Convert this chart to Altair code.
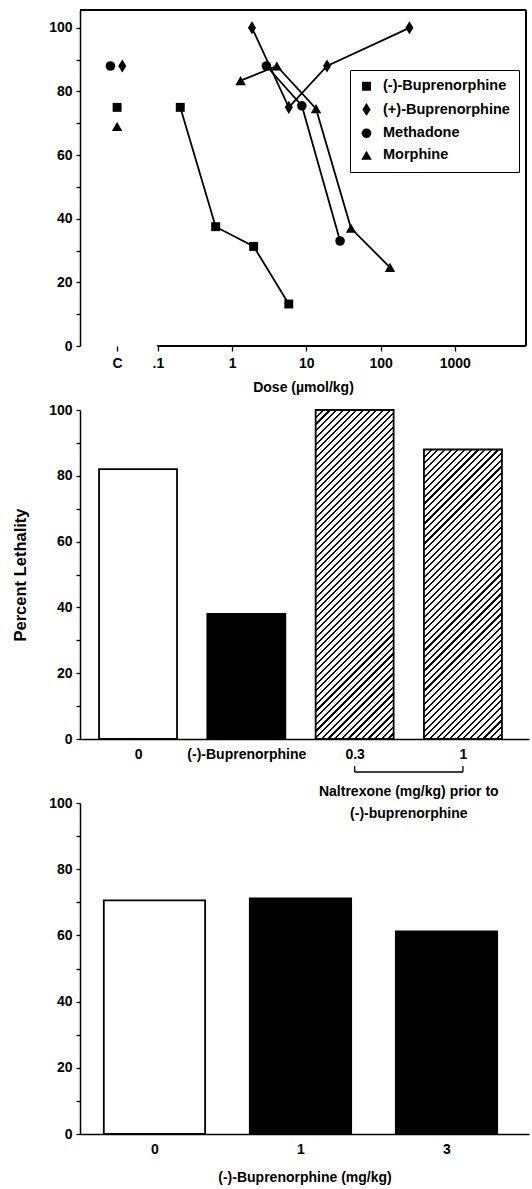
import json
import altair as alt
import numpy as np
import pandas as pd

FONT = "Liberation Sans"

# ---------------- Panel 1: dose-response ----------------
DRUGS = ["(-)-Buprenorphine", "(+)-Buprenorphine", "Methadone", "Morphine"]
CONTROL_LETHALITY = [75, 88, 88, 69]
BUP_MINUS_DOSE = [0.2, 0.6, 1.95, 5.8]
BUP_MINUS_LETH = [75, 37.5, 31.3, 13.2]
BUP_PLUS_DOSE = [1.85, 5.8, 19, 245]
BUP_PLUS_LETH = [100, 75, 88, 100]
METH_DOSE = [2.9, 8.7, 28.5]
METH_LETH = [88, 75.5, 33]
MORPH_DOSE = [1.3, 4.0, 13.5, 40, 134]
MORPH_LETH = [83.4, 88, 74.6, 37, 24.7]
X_TICK_VALUES = [-1, 0, 1, 2, 3]  # log10 dose: .1, 1, 10, 100, 1000

# ---------------- Panel 2: naltrexone pretreatment ----------------
MID_LABELS = ["0", "(-)-Buprenorphine", "0.3", "1"]
MID_VALUES = [82, 38, 100, 88]
MID_STYLE = ["open", "solid", "hatch", "hatch"]

# ---------------- Panel 3: (-)-buprenorphine dose ----------------
BOT_LABELS = ["0", "1", "3"]
BOT_VALUES = [70.6, 71.2, 61.2]
BOT_STYLE = ["open", "solid", "solid"]

# ---------------- layout constants ----------------
W_TOP, H_TOP = 446, 336
W_MID, H_MID = 449, 329
W_BOT, H_BOT = 449, 331
CONTROL_POS = -1.55
CONTROL_NUDGE = {"(-)-Buprenorphine": 0.0, "(+)-Buprenorphine": 0.07,
                 "Methadone": -0.09, "Morphine": 0.0}

rows = []
for drug, doses, leths in zip(DRUGS, [BUP_MINUS_DOSE, BUP_PLUS_DOSE, METH_DOSE, MORPH_DOSE],
                              [BUP_MINUS_LETH, BUP_PLUS_LETH, METH_LETH, MORPH_LETH]):
    for d, l in zip(doses, leths):
        rows.append({"drug": drug, "group": "dose", "pos": float(np.log10(d)), "lethality": l})
for drug, l in zip(DRUGS, CONTROL_LETHALITY):
    rows.append({"drug": drug, "group": "control",
                 "pos": CONTROL_POS + CONTROL_NUDGE[drug], "lethality": l})
df_top = pd.DataFrame(rows)

DIAMOND = "M0,-1L0.62,0L0,1L-0.62,0Z"
x_top = alt.Scale(domain=[-2.05, 3.96], nice=False, zero=False)
y_top = alt.Scale(domain=[0, 105.6], nice=False)
shape_scale = alt.Scale(domain=DRUGS, range=["square", DIAMOND, "circle", "triangle-up"])
size_scale = alt.Scale(type="ordinal", domain=DRUGS, range=[80, 170, 92, 110])

legend = alt.Legend(orient="none", legendX=270, legendY=60, title=None,
                    strokeColor="black", fillColor="white", padding=9,
                    labelFont=FONT, labelFontSize=14.5, labelFontWeight="bold",
                    labelColor="black", symbolFillColor="black", symbolStrokeColor="black",
                    rowPadding=5, labelOffset=9, labelLimit=300)

x_axis_top = alt.Axis(values=[CONTROL_POS] + X_TICK_VALUES,
                      labelExpr="datum.value < -1.2 ? 'C' : (datum.value == -1 ? '.1' : format(pow(10, datum.value), 'd'))",
                      domain=False, ticks=True, tickSize=5, labelPadding=5,
                      title="Dose (µmol/kg)", titlePadding=10)
y_axis_ticks = alt.Axis(values=list(range(0, 101, 10)),
                        labelExpr="datum.value % 20 == 0 ? datum.label : ''",
                        tickSize=4, labelPadding=4, title=None)

base_top = alt.Chart(df_top)
lines = base_top.transform_filter("datum.group == 'dose'").mark_line(
    color="black", strokeWidth=1.8).encode(
    x=alt.X("pos:Q", scale=x_top, axis=x_axis_top),
    y=alt.Y("lethality:Q", scale=y_top, axis=y_axis_ticks),
    detail="drug:N")
points = base_top.mark_point(filled=True, color="black", opacity=1).encode(
    x=alt.X("pos:Q", scale=x_top, axis=x_axis_top),
    y=alt.Y("lethality:Q", scale=y_top, axis=y_axis_ticks),
    shape=alt.Shape("drug:N", scale=shape_scale, legend=legend),
    size=alt.Size("drug:N", scale=size_scale, legend=legend))
axis_line = alt.Chart(df_top).mark_rule(color="black", strokeWidth=1.5).encode(
    x=alt.X(datum=-1, type="quantitative", scale=x_top), x2=alt.value(W_TOP), y=alt.value(H_TOP))
top_border = alt.Chart(df_top).mark_rule(color="black", strokeWidth=1.5).encode(
    x=alt.value(0), x2=alt.value(W_TOP), y=alt.value(0))
right_border = alt.Chart(df_top).mark_rule(color="black", strokeWidth=1.5).encode(
    x=alt.value(W_TOP), y=alt.value(0), y2=alt.value(H_TOP))
top_chart = alt.layer(lines, points, axis_line, top_border, right_border).properties(
    width=W_TOP, height=H_TOP)


# ---------------- hatch fill ----------------
def hatch(w, h, period=4.7, line=1.5):
    r = w / h
    b = (r + 1) / (r * r + 1)
    a = r * b
    n = int(round((w + h) / np.sqrt(2) / period))
    stops = []
    for k in range(n):
        t0 = round(k / n, 5)
        t1 = round((k + line / period) / n, 5)
        t2 = round((k + 1) / n, 5)
        stops += [alt.GradientStop(color="black", offset=t0),
                  alt.GradientStop(color="black", offset=t1),
                  alt.GradientStop(color="white", offset=t1),
                  alt.GradientStop(color="white", offset=t2)]
    return alt.LinearGradient(gradient="linear", stops=stops, x1=0, y1=0,
                              x2=round(a, 4), y2=round(b, 4))


def bar_panel(labels, values, styles, width, height, xdom, half, ytitle, xtitle, extra=None):
    df = pd.DataFrame({"idx": list(range(len(labels))), "label": labels,
                       "value": values, "style": styles})
    xs = alt.Scale(domain=xdom, nice=False, zero=False)
    ys = alt.Scale(domain=[0, 100], nice=False)
    px_per_unit = width / (xdom[1] - xdom[0])
    label_expr = json.dumps(labels) + "[datum.value]"
    xaxis = alt.Axis(values=list(range(len(labels))), labelExpr=label_expr, ticks=False,
                     labelPadding=8, title=xtitle, titlePadding=14, domainWidth=1.5)
    yaxis = alt.Axis(values=list(range(0, 101, 10)),
                     labelExpr="datum.value % 20 == 0 ? datum.label : ''",
                     tickSize=4, labelPadding=4, title=ytitle, titlePadding=20,
                     titleFontSize=16.5)
    base = alt.Chart(df).transform_calculate(
        lo=f"datum.idx - {half}", hi=f"datum.idx + {half}")
    enc = dict(x=alt.X("lo:Q", scale=xs, axis=xaxis), x2="hi:Q",
               y=alt.Y("value:Q", scale=ys, axis=yaxis), y2=alt.datum(0))
    layers = []
    for style, fill in [("open", "white"), ("solid", "black")]:
        if style in styles:
            layers.append(base.transform_filter(f"datum.style == '{style}'").mark_bar(
                fill=fill, stroke="black", strokeWidth=1.8).encode(**enc))
    for i, s in enumerate(styles):
        if s == "hatch":
            g = hatch(2 * half * px_per_unit, values[i] / 100 * height)
            layers.append(base.transform_filter(f"datum.idx == {i}").mark_bar(
                fill=g, stroke="black", strokeWidth=1.8).encode(**enc))
    if extra:
        layers += extra(df, xs)
    return alt.layer(*layers).properties(width=width, height=height)


def naltrexone_annotation(df, xs):
    src = alt.Chart(df.head(1))
    hline = src.mark_rule(color="black", strokeWidth=1.3).encode(
        x=alt.X(datum=2, type="quantitative", scale=xs), x2=alt.datum(3), y=alt.value(H_MID + 33))
    left = src.mark_rule(color="black", strokeWidth=1.3).encode(
        x=alt.X(datum=2, type="quantitative", scale=xs), y=alt.value(H_MID + 27), y2=alt.value(H_MID + 33))
    right = src.mark_rule(color="black", strokeWidth=1.3).encode(
        x=alt.X(datum=3, type="quantitative", scale=xs), y=alt.value(H_MID + 27), y2=alt.value(H_MID + 33))
    txt = src.mark_text(font=FONT, fontSize=14, fontWeight="bold", color="black",
                        baseline="top", align="center", lineBreak="\n", lineHeight=22).encode(
        x=alt.X(datum=2.5, type="quantitative", scale=xs), y=alt.value(H_MID + 46),
        text=alt.value("Naltrexone (mg/kg) prior to\n(-)-buprenorphine"))
    return [hline, left, right, txt]


mid_chart = bar_panel(MID_LABELS, MID_VALUES, MID_STYLE, W_MID, H_MID,
                      [-0.536, 3.61], 0.36, "Percent Lethality", None, naltrexone_annotation)
bot_chart = bar_panel(BOT_LABELS, BOT_VALUES, BOT_STYLE, W_BOT, H_BOT,
                      [-0.51, 2.565], 0.347, None, "(-)-Buprenorphine (mg/kg)")

chart = alt.vconcat(top_chart, mid_chart, bot_chart, spacing=64, bounds="flush").properties(
    padding={"left": 12, "top": 8, "right": 0, "bottom": 0}
).configure_view(stroke="transparent").configure_axis(
    domainColor="black", tickColor="black", labelColor="black", titleColor="black",
    labelFont=FONT, titleFont=FONT, labelFontSize=14, titleFontSize=14,
    labelFontWeight="bold", titleFontWeight="bold", domainWidth=1.5, tickWidth=1.3,
    grid=False
).configure_text(font=FONT)

chart.save("out.html", embed_options={"renderer": "svg", "actions": False})
